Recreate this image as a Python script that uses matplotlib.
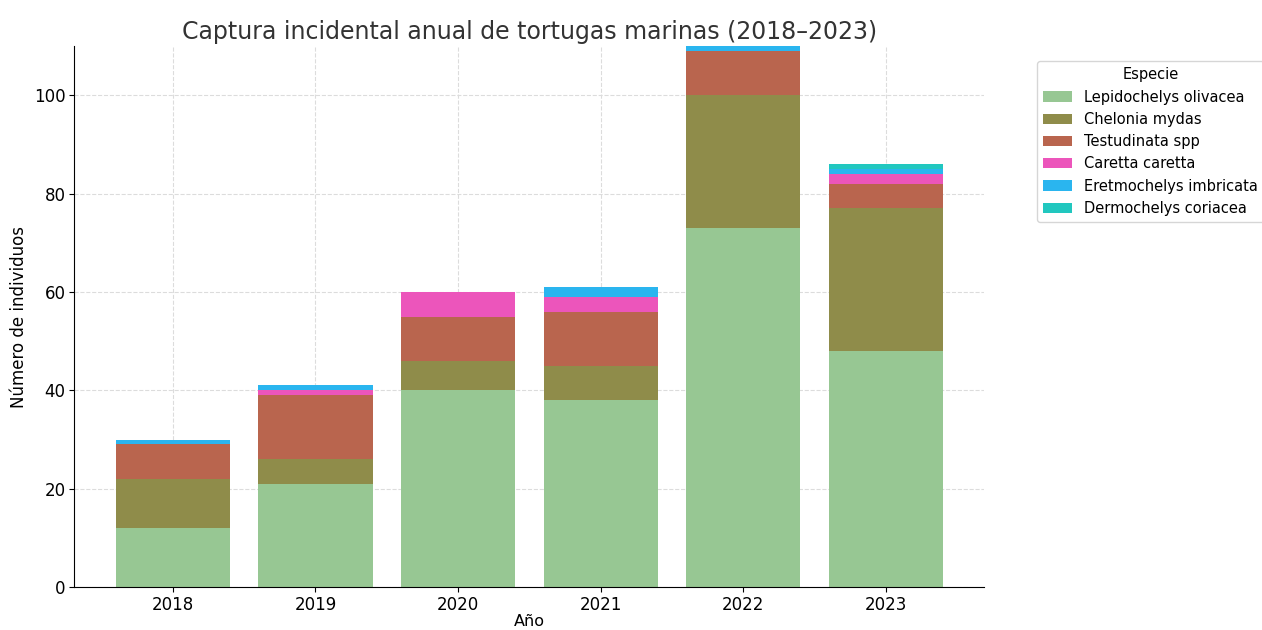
import numpy as np
import matplotlib
matplotlib.use('Agg')
import matplotlib.pyplot as plt

# Datos
years = ['2018', '2019', '2020', '2021', '2022', '2023']
species = ['Lepidochelys olivacea', 'Chelonia mydas', 'Testudinata spp',
           'Caretta caretta', 'Eretmochelys imbricata', 'Dermochelys coriacea']
lepidochelys = [12, 21, 40, 38, 73, 48]
chelonia = [10, 5, 6, 7, 27, 29]
testudinata = [7, 13, 9, 11, 9, 5]
caretta = [0, 1, 5, 3, 0, 2]
eretmochelys = [1, 1, 0, 2, 1, 1]
dermochelys = [0, 0, 0, 0, 0, 1]
colors = ['#97c793', '#8f8c4a', '#b9654e', '#ec55bb', '#2ab5ef', '#21c7bf']

series = [lepidochelys, chelonia, testudinata, caretta, eretmochelys, dermochelys]

fig = plt.figure(figsize=(12.62, 6.30), dpi=100)
ax = fig.add_axes([0.059, 0.068, 0.721, 0.859])

x = np.arange(len(years))
bottom = np.zeros(len(years))
for name, vals, c in zip(species, series, colors):
    ax.bar(x, vals, bottom=bottom, width=0.8, color=c, label=name, zorder=2)
    bottom += np.array(vals)

ax.set_xticks(x)
ax.set_xticklabels(years)
ax.set_ylim(0, 110)
ax.grid(True, linestyle='--', color='#dcdcdc', linewidth=0.8, zorder=0)
ax.set_axisbelow(True)
for s in ['top', 'right']:
    ax.spines[s].set_visible(False)
ax.tick_params(labelsize=12, pad=3)

ax.set_title('Captura incidental anual de tortugas marinas (2018–2023)', fontsize=17, color='#333333', pad=5)
ax.set_xlabel('Año', fontsize=11.5, labelpad=0)
ax.set_ylabel('Número de individuos', fontsize=12)

leg = ax.legend(title='Especie', loc='upper left', bbox_to_anchor=(1.05, 0.985),
                fontsize=10.5, title_fontsize=10.5)

fig.savefig('out.png', dpi=100)
